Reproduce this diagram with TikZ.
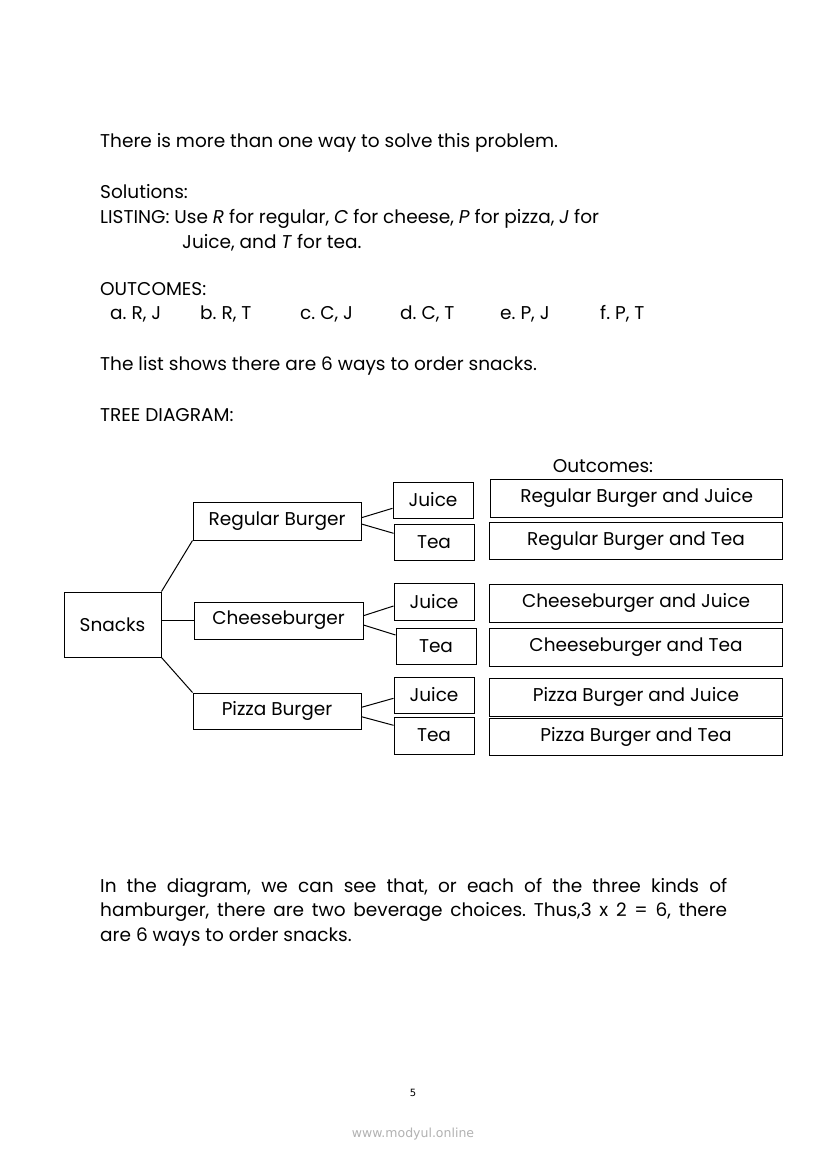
\documentclass[tikz,border=0pt]{standalone}
\usepackage{fontspec}
\setmainfont{Poppins}
\newfontfamily\wmfont{DejaVu Sans}
\usetikzlibrary{calc}
\frenchspacing
\begin{document}
\begin{tikzpicture}[x=1pt,y=-1pt,
  txt/.style={anchor=base west,inner sep=0pt,font=\fontsize{18.5}{22}\selectfont},
  bx/.style={draw,line width=1pt,inner sep=0pt,font=\fontsize{18.5}{22}\selectfont},
  ln/.style={line width=1pt}]
\useasboundingbox[fill=white] (0,0) rectangle (826,1169);
% text
\node[txt] (l1) at (100,148) {There is more than one way to solve this problem.};
\node[txt] (l2) at (100,198) {Solutions:};
\node[txt] (l3) at (100,223) {LISTING: Use \textit{R} for regular, \textit{C} for cheese, \textit{P} for pizza, \textit{J} for};
\node[txt] (l4) at (182,248) {Juice, and \textit{T} for tea.};
\node[txt] (l5) at (100,295) {OUTCOMES:};
\node[txt] (oa) at (110,319) {a. R, J};
\node[txt] (ob) at (200,319) {b. R, T};
\node[txt] (oc) at (300,319) {c. C, J};
\node[txt] (od) at (400,319) {d. C, T};
\node[txt] (oe) at (500,319) {e. P, J};
\node[txt] (of) at (600,319) {f. P, T};
\node[txt] (l6) at (100,370) {The list shows there are 6 ways to order snacks.};
\node[txt] (l7) at (100,421) {TREE DIAGRAM:};
\node[txt,anchor=base] (oh) at (603,472) {Outcomes:};
% tree
\node[bx,minimum width=97pt,minimum height=65pt] (sn) at (112.5,624.5) {Snacks};
\node[bx,minimum width=168pt,minimum height=38pt] (rb) at (277,521) {Regular Burger};
\node[bx,minimum width=169pt,minimum height=37pt] (cb) at (278.5,620.5) {Cheeseburger};
\node[bx,minimum width=168pt,minimum height=36pt] (pb) at (277,711) {Pizza Burger};
\node[bx,minimum width=80pt,minimum height=36pt] (j1) at (433,500) {Juice};
\node[bx,minimum width=80pt,minimum height=36pt] (t1) at (434,542) {Tea};
\node[bx,minimum width=80pt,minimum height=37pt] (j2) at (434,601.5) {Juice};
\node[bx,minimum width=80pt,minimum height=36pt] (t2) at (436,646) {Tea};
\node[bx,minimum width=80pt,minimum height=36pt] (j3) at (434,695) {Juice};
\node[bx,minimum width=80pt,minimum height=37pt] (t3) at (434,735.5) {Tea};
\node[bx,minimum width=292pt,minimum height=38pt] (o1) at (636.7,498) {Regular Burger and Juice};
\node[bx,minimum width=293pt,minimum height=37pt] (o2) at (636,541) {Regular Burger and Tea};
\node[bx,minimum width=293pt,minimum height=38pt] (o3) at (636,603) {Cheeseburger and Juice};
\node[bx,minimum width=293pt,minimum height=38pt] (o4) at (636,647) {Cheeseburger and Tea};
\node[bx,minimum width=293pt,minimum height=38pt] (o5) at (636,697) {Pizza Burger and Juice};
\node[bx,minimum width=293pt,minimum height=37pt] (o6) at (636,737) {Pizza Burger and Tea};
\draw[ln] (sn.north east) -- (rb.south west);
\draw[ln] (sn.east |- cb.west) -- (cb.west);
\draw[ln] (sn.south east) -- (pb.north west);
\draw[ln] ($(rb.east)+(0,-3.3)$) -- ($(j1.west)+(0,8.3)$);
\draw[ln] ($(rb.east)+(0,3)$) -- ($(t1.west)+(0,-8.7)$);
\draw[ln] ($(cb.east)+(0,-4.8)$) -- ($(j2.west)+(0,4.5)$);
\draw[ln] ($(cb.east)+(0,4.5)$) -- ($(t2.west)+(0,-11)$);
\draw[ln] ($(pb.east)+(0,-3.7)$) -- ($(j3.west)+(0,3.3)$);
\draw[ln] ($(pb.east)+(0,5.7)$) -- ($(t3.west)+(0,-10.2)$);
% bottom paragraph
\node[anchor=north west,inner sep=0pt,text width=627pt,align=justify,font=\fontsize{18.5}{24.5}\selectfont] (para) at (100,878)
{In the diagram, we can see that, or each of the three kinds of\linebreak hamburger, there are two beverage choices. Thus,3 x 2 = 6, there\linebreak are 6 ways to order snacks.};
\node[inner sep=0pt,font=\wmfont\fontsize{10}{12}\selectfont] (pg) at (413,1093) {5};
\node[inner sep=0pt,text=black!30,font=\wmfont\fontsize{12.5}{14}\selectfont] (wm) at (413,1134) {www.modyul.online};
\end{tikzpicture}
\end{document}
